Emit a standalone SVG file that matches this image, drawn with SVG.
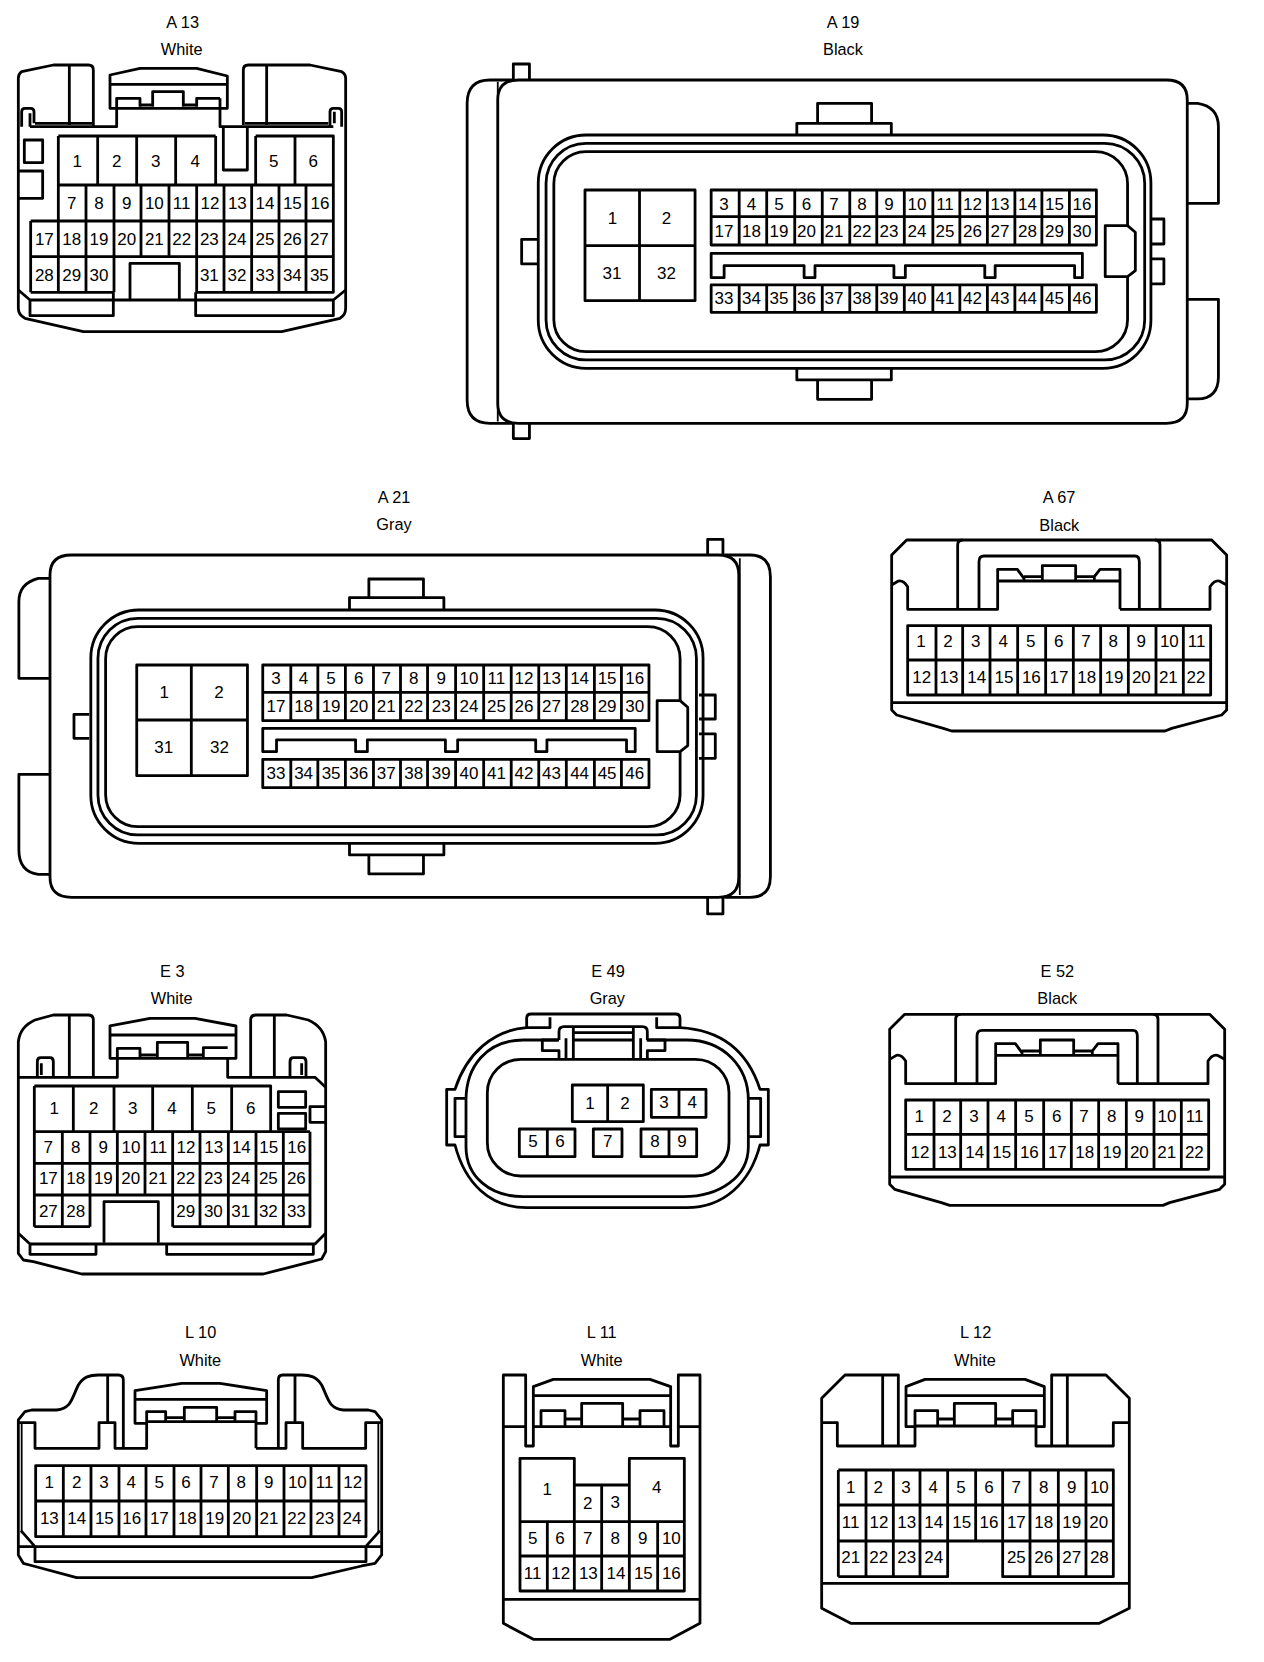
<svg xmlns="http://www.w3.org/2000/svg" width="1264" height="1662" viewBox="0 0 1264 1662">
<style>
text{font-family:"Liberation Sans",Arial,sans-serif;text-anchor:middle;fill:#000}
.x3 text{font-size:51px}
.x3 text.t{font-size:49px}
.x1 text{font-size:17px}
.x1 text.t{font-size:16.3px}
path,rect{fill:none;stroke:#000;stroke-width:2.8;stroke-linejoin:round;vector-effect:non-scaling-stroke}
.w{fill:#fff}
.thin{stroke-width:1.8}
</style>
<rect x="0" y="0" width="1264" height="1662" style="fill:#fff;stroke:none"/>

<g id="A13" class="x3" transform="scale(.33333)">
<path d="M280 380V210Q280 195 265 195H160L65 215Q55 222 55 235V925Q55 945 75 955L250 995H845L1020 955Q1037 945 1037 925V235Q1037 222 1025 215L930 195H745Q730 195 730 210V375M208 195V375M800 195V375"/>
<path d="M90 380H350V295H420V320M660 295H590V320M660 295V380H1000M105 370H280M735 370H985"/>
<path d="M330 325V225L420 205H590L682 228V325ZM330 253H682M420 315H458M458 320V275H550V320M550 315H590"/>
<path d="M670 380V510H742V380"/>
<path d="M65 380V335Q65 325 75 325H92Q102 325 102 335V370M90 340V380M1025 380V335Q1025 325 1015 325H1000Q990 325 990 335V380M1003 335V370"/>
<path d="M73 420H128V488H73ZM55 513H128V595H55"/>
<path d="M55 870L90 900H1000L1037 870M90 900V947H340V877M587 877V947H1000V900M390 900V790H538V900"/>
<path d="M175 408H647M767 408H1000V877H587M92 877H342M175 555H1000M92 663H1000M92 770H1000M175 408V877M293 408V555M410 408V555M527 408V555M647 408V555M767 408V555M885 408V555M92 663V877M258 555V877M342 555V877M423 555V770M507 555V770M590 555V877M672 555V877M755 555V877M837 555V877M918 555V877"/>
<text class="t" x="548" y="83">A 13</text><text class="t" x="545" y="165">White</text>
<text x="232" y="500">1</text><text x="350" y="500">2</text><text x="467" y="500">3</text><text x="586" y="500">4</text><text x="821" y="500">5</text><text x="940" y="500">6</text>
<text x="215" y="628">7</text><text x="297" y="628">8</text><text x="380" y="628">9</text><text x="463" y="628">10</text><text x="545" y="628">11</text><text x="630" y="628">12</text><text x="712" y="628">13</text><text x="795" y="628">14</text><text x="877" y="628">15</text><text x="960" y="628">16</text>
<text x="133" y="735">17</text><text x="215" y="735">18</text><text x="297" y="735">19</text><text x="380" y="735">20</text><text x="463" y="735">21</text><text x="545" y="735">22</text><text x="628" y="735">23</text><text x="711" y="735">24</text><text x="795" y="735">25</text><text x="877" y="735">26</text><text x="958" y="735">27</text>
<text x="133" y="842">28</text><text x="215" y="842">29</text><text x="297" y="842">30</text><text x="628" y="842">31</text><text x="711" y="842">32</text><text x="795" y="842">33</text><text x="877" y="842">34</text><text x="958" y="842">35</text>
</g>

<g id="A19" class="x1">
<g transform="translate(450 0) scale(.5192 .3333)">
<path d="M120 240H77Q33 240 33 310V1200Q33 1270 77 1270H120"/>
<path class="thin" d="M92 245V1265"/>
<path d="M132 240H1380Q1420 240 1420 300V1210Q1420 1270 1380 1270H132Q92 1270 92 1210V300Q92 240 132 240Z"/>
<path d="M122 240V192H153V240M122 1270V1316H153V1270"/>
<path d="M1420 310H1440Q1480 320 1480 380V610H1420M1420 898H1480V1130Q1480 1195 1440 1197H1420"/>
<path d="M708 370V310H812V370M668 405V370H850V405M668 1105V1140H850V1105M708 1140V1198H812V1140"/>
<path d="M170 718H138V792H170M1350 657H1375V732H1350M1350 777H1375V852H1350"/>
<rect x="170" y="405" width="1180" height="700" rx="92" ry="144"/>
<rect x="185" y="430" width="1153" height="650" rx="77" ry="120"/>
<rect x="200" y="455" width="1105" height="600" rx="62" ry="96"/>
<path class="w" d="M1305 677H1262V830H1305L1320 812V697Z"/>
<path d="M260 570H472V902H260ZM365 570V902M260 737H472"/>
<path d="M503 570H1245V735H503ZM503 650H1245M503 855H1245V937H503ZM557 570V735M610 570V735M664 570V735M717 570V735M770 570V735M822 570V735M875 570V735M930 570V735M982 570V735M1035 570V735M1088 570V735M1140 570V735M1193 570V735M557 855V937M610 855V937M664 855V937M717 855V937M770 855V937M822 855V937M875 855V937M930 855V937M982 855V937M1035 855V937M1088 855V937M1140 855V937M1193 855V937"/>
<path d="M503 833V760H1218V833H1203V797H1050V833H1030V797H877V833H855V797H703V833H682V797H528V833Z"/>
</g>
<text class="t" x="843" y="27.7">A 19</text><text class="t" x="843" y="55">Black</text>
<text x="612.5" y="224">1</text><text x="666.5" y="224">2</text><text x="612" y="278.7">31</text><text x="666.5" y="278.7">32</text>
<text x="724" y="209.5">3</text><text x="751.5" y="209.5">4</text><text x="779" y="209.5">5</text><text x="806.5" y="209.5">6</text><text x="834" y="209.5">7</text><text x="862" y="209.5">8</text><text x="889" y="209.5">9</text><text x="917" y="209.5">10</text><text x="945" y="209.5">11</text><text x="972.5" y="209.5">12</text><text x="1000" y="209.5">13</text><text x="1027.5" y="209.5">14</text><text x="1054.5" y="209.5">15</text><text x="1082" y="209.5">16</text>
<text x="724" y="236.7">17</text><text x="751.5" y="236.7">18</text><text x="779" y="236.7">19</text><text x="806.5" y="236.7">20</text><text x="834" y="236.7">21</text><text x="862" y="236.7">22</text><text x="889" y="236.7">23</text><text x="917" y="236.7">24</text><text x="945" y="236.7">25</text><text x="972.5" y="236.7">26</text><text x="1000" y="236.7">27</text><text x="1027.5" y="236.7">28</text><text x="1054.5" y="236.7">29</text><text x="1082" y="236.7">30</text>
<text x="724" y="304.3">33</text><text x="751.5" y="304.3">34</text><text x="779" y="304.3">35</text><text x="806.5" y="304.3">36</text><text x="834" y="304.3">37</text><text x="862" y="304.3">38</text><text x="889" y="304.3">39</text><text x="917" y="304.3">40</text><text x="945" y="304.3">41</text><text x="972.5" y="304.3">42</text><text x="1000" y="304.3">43</text><text x="1027.5" y="304.3">44</text><text x="1054.5" y="304.3">45</text><text x="1082" y="304.3">46</text>
</g>

<g id="A21" class="x1">
<g transform="translate(0 480) scale(.5102 .3333)">
<path d="M1420 225H1470Q1510 225 1510 290V1190Q1510 1252 1470 1252H1420"/>
<path class="thin" d="M1450 235V1245"/>
<path d="M140 225H1408Q1448 225 1448 285V1192Q1448 1252 1408 1252H140Q98 1252 98 1192V285Q98 225 140 225Z"/>
<path d="M1387 225V178H1417V225M1387 1252V1302H1417V1252"/>
<path d="M98 295H75Q37 310 37 365V595H98M98 883H37V1110Q37 1175 75 1183H98"/>
<path d="M723 353V297H830V353M685 390V353H870V390M685 1090V1125H870V1090M723 1125V1182H830V1125"/>
<path d="M175 703H145V775H175M1370 645H1402V717H1370M1370 762H1402V835H1370"/>
<rect x="178" y="390" width="1200" height="700" rx="94" ry="144"/>
<rect x="192" y="415" width="1173" height="650" rx="78" ry="120"/>
<rect x="207" y="440" width="1126" height="600" rx="63" ry="96"/>
<path class="w" d="M1333 662H1288V815H1333L1348 797V682Z"/>
<path d="M268 555H485V887H268ZM375 555V887M268 720H485"/>
<path d="M515 555H1272V722H515ZM515 637H1272M515 838H1272V923H515ZM570 555V722M623 555V722M677 555V722M732 555V722M785 555V722M838 555V722M893 555V722M948 555V722M1002 555V722M1056 555V722M1110 555V722M1165 555V722M1218 555V722M570 838V923M623 838V923M677 838V923M732 838V923M785 838V923M838 838V923M893 838V923M948 838V923M1002 838V923M1056 838V923M1110 838V923M1165 838V923M1218 838V923"/>
<path d="M515 815V745H1245V815H1228V780H1072V815H1050V780H897V815H873V780H720V815H697V780H542V815Z"/>
</g>
<text class="t" x="394" y="502.7">A 21</text><text class="t" x="394" y="530">Gray</text>
<text x="164.3" y="698.3">1</text><text x="218.9" y="698.3">2</text><text x="163.8" y="753.3">31</text><text x="219.4" y="753.3">32</text>
<text x="276" y="684">3</text><text x="303.6" y="684">4</text><text x="331.1" y="684">5</text><text x="358.7" y="684">6</text><text x="386.2" y="684">7</text><text x="413.8" y="684">8</text><text x="441.3" y="684">9</text><text x="468.9" y="684">10</text><text x="496.4" y="684">11</text><text x="524" y="684">12</text><text x="551.5" y="684">13</text><text x="579.6" y="684">14</text><text x="607.1" y="684">15</text><text x="634.7" y="684">16</text>
<text x="276" y="712.3">17</text><text x="303.6" y="712.3">18</text><text x="331.1" y="712.3">19</text><text x="358.7" y="712.3">20</text><text x="386.2" y="712.3">21</text><text x="413.8" y="712.3">22</text><text x="441.3" y="712.3">23</text><text x="468.9" y="712.3">24</text><text x="496.4" y="712.3">25</text><text x="524" y="712.3">26</text><text x="551.5" y="712.3">27</text><text x="579.6" y="712.3">28</text><text x="607.1" y="712.3">29</text><text x="634.7" y="712.3">30</text>
<text x="276" y="779">33</text><text x="303.6" y="779">34</text><text x="331.1" y="779">35</text><text x="358.7" y="779">36</text><text x="386.2" y="779">37</text><text x="413.8" y="779">38</text><text x="441.3" y="779">39</text><text x="468.9" y="779">40</text><text x="496.4" y="779">41</text><text x="524" y="779">42</text><text x="551.5" y="779">43</text><text x="579.6" y="779">44</text><text x="607.1" y="779">45</text><text x="634.7" y="779">46</text>
</g>

<g id="A67" class="x3" transform="translate(860 480) scale(.33333)">
<path d="M95 225L140 180H1055L1100 225V690L1085 705L935 745L915 753H275L250 745L110 705L95 690ZM95 668H1100"/>
<path d="M95 315L115 303Q130 300 143 320V388H413V268H472L492 295V303M413 303H780M547 303V257H647V303M492 290H547M647 290H703M780 388V268H720L703 290V303M780 388H1050V320Q1063 300 1078 303L1100 315"/>
<path d="M293 388V195Q293 180 308 180M900 388V195Q900 180 885 180M357 388V245Q357 228 372 228H825Q838 228 838 245V388"/>
<path d="M143 437H1052V645H143ZM143 540H1052M228 437V645M308 437V645M390 437V645M473 437V645M557 437V645M640 437V645M722 437V645M805 437V645M888 437V645M970 437V645"/>
<text class="t" x="597" y="68">A 67</text><text class="t" x="598" y="152">Black</text>
<text x="183" y="502">1</text><text x="264" y="502">2</text><text x="347" y="502">3</text><text x="430" y="502">4</text><text x="512" y="502">5</text><text x="596" y="502">6</text><text x="678" y="502">7</text><text x="760" y="502">8</text><text x="844" y="502">9</text><text x="928" y="502">10</text><text x="1010" y="502">11</text>
<text x="185" y="608">12</text><text x="267" y="608">13</text><text x="350" y="608">14</text><text x="432" y="608">15</text><text x="514" y="608">16</text><text x="597" y="608">17</text><text x="680" y="608">18</text><text x="762" y="608">19</text><text x="844" y="608">20</text><text x="925" y="608">21</text><text x="1008" y="608">22</text>
</g>

<g id="E3" class="x3" transform="translate(0 960) scale(.33333)">
<path d="M280 352V180Q280 165 265 165H160L105 180Q60 200 55 245V880L70 900L100 905L245 942H790L935 905L965 897L977 875V245Q970 200 925 180L860 165H768Q752 165 752 180V352M208 165V352M823 165V352"/>
<path d="M55 352H352V265H420V295M683 263H610V295M683 295V352H945L977 382"/>
<path d="M330 295V198L450 175H585L708 198V295ZM330 225H708M420 285H472M472 295V247H563V295M563 285H610"/>
<path d="M112 352V305Q112 293 122 293H150Q160 293 160 305V352M124 310V345M870 352V305Q870 293 880 293H908Q918 293 918 305V352M905 310V345"/>
<path d="M103 378H812V515M103 515H930M103 610H930M103 705H930M103 800H270M518 800H930V515M103 378V800M220 378V515M342 378V515M458 378V515M577 378V515M695 378V515M187 515V800M270 515V800M352 515V705M435 515V705M518 515V800M600 515V800M685 515V800M768 515V800M850 515V800"/>
<rect x="835" y="395" width="82" height="47"/><rect x="835" y="460" width="82" height="47"/>
<path d="M977 440H930V487H977M312 848V725H475V848"/>
<path d="M55 820L90 852H945L977 820M90 852V883H288V852M500 852V883H940V852"/>
<text class="t" x="517" y="52">E 3</text><text class="t" x="515" y="133">White</text>
<text x="163" y="462">1</text><text x="281" y="462">2</text><text x="398" y="462">3</text><text x="516" y="462">4</text><text x="634" y="462">5</text><text x="752" y="462">6</text>
<text x="145" y="580">7</text><text x="227" y="580">8</text><text x="310" y="580">9</text><text x="393" y="580">10</text><text x="475" y="580">11</text><text x="558" y="580">12</text><text x="641" y="580">13</text><text x="724" y="580">14</text><text x="806" y="580">15</text><text x="890" y="580">16</text>
<text x="145" y="672">17</text><text x="227" y="672">18</text><text x="310" y="672">19</text><text x="392" y="672">20</text><text x="474" y="672">21</text><text x="557" y="672">22</text><text x="640" y="672">23</text><text x="722" y="672">24</text><text x="805" y="672">25</text><text x="889" y="672">26</text>
<text x="145" y="770">27</text><text x="227" y="770">28</text><text x="557" y="770">29</text><text x="640" y="770">30</text><text x="722" y="770">31</text><text x="805" y="770">32</text><text x="889" y="770">33</text>
</g>

<g id="E49" class="x3" transform="translate(430 960) scale(.33333)">
<path d="M360 172V203H290V175Q290 162 303 162H737Q750 162 750 175V203H680V172"/>
<path d="M290 203C190 210 110 280 75 388H50V555H75C105 670 180 743 290 743H770C880 743 960 670 990 555H1015V388H990C955 280 880 210 750 203"/>
<path d="M385 240H280C170 240 108 320 108 420V560C108 650 180 710 280 710H760C870 710 955 650 955 560V420C955 320 880 240 770 240H650"/>
<rect x="172" y="298" width="725" height="350" rx="100" ry="100"/>
<path d="M108 415H75V530H108M955 415H992V530H955"/>
<path d="M387 240V215Q387 200 402 200H637Q652 200 652 215V240M430 218H610M430 240H610M430 200V298M610 200V298M408 235V298M632 235V298M387 240H337V272H387V298M652 298V272H705V240H652"/>
<path d="M427 375H640V485H427ZM533 375V485M664 388H828V472H664ZM747 388V472M268 507H435V590H268ZM352 507V590M490 507H576V590H490ZM633 507H800V590H633ZM717 507V590"/>
<text class="t" x="534" y="52">E 49</text><text class="t" x="532" y="133">Gray</text>
<text x="480" y="447">1</text><text x="585" y="447">2</text><text x="702" y="445">3</text><text x="787" y="445">4</text><text x="309" y="562">5</text><text x="390" y="562">6</text><text x="533" y="562">7</text><text x="675" y="562">8</text><text x="756" y="562">9</text>
</g>

<g id="E52" class="x3" transform="translate(860 960) scale(.33333)">
<g transform="translate(-6 -17)">
<path d="M95 225L140 180H1055L1100 225V690L1085 705L935 745L915 753H275L250 745L110 705L95 690ZM95 668H1100"/>
<path d="M95 315L115 303Q130 300 143 320V388H413V268H472L492 295V303M413 303H780M547 303V257H647V303M492 290H547M647 290H703M780 388V268H720L703 290V303M780 388H1050V320Q1063 300 1078 303L1100 315"/>
<path d="M293 388V195Q293 180 308 180M900 388V195Q900 180 885 180M357 388V245Q357 228 372 228H825Q838 228 838 245V388"/>
<path d="M143 437H1052V645H143ZM143 540H1052M228 437V645M308 437V645M390 437V645M473 437V645M557 437V645M640 437V645M722 437V645M805 437V645M888 437V645M970 437V645"/>
</g>
<text class="t" x="592" y="52">E 52</text><text class="t" x="592" y="133">Black</text>
<text x="178" y="487">1</text><text x="261" y="487">2</text><text x="342" y="487">3</text><text x="424" y="487">4</text><text x="507" y="487">5</text><text x="590" y="487">6</text><text x="672" y="487">7</text><text x="755" y="487">8</text><text x="838" y="487">9</text><text x="921" y="487">10</text><text x="1004" y="487">11</text>
<text x="180" y="595">12</text><text x="262" y="595">13</text><text x="344" y="595">14</text><text x="425" y="595">15</text><text x="508" y="595">16</text><text x="592" y="595">17</text><text x="674" y="595">18</text><text x="756" y="595">19</text><text x="838" y="595">20</text><text x="920" y="595">21</text><text x="1003" y="595">22</text>
</g>

<g id="L10" class="x3" transform="translate(0 1320) scale(.33333)">
<path d="M370 385V180Q370 165 355 165H295C270 165 250 170 235 195C215 235 215 265 170 270H95L75 275L55 300V705L70 730L100 738L230 773H935L1085 738L1125 730L1145 705V300L1125 275L1105 270H1030C985 265 985 235 965 195C950 170 930 165 905 165H848Q835 165 835 180V385M323 165V308M885 165V308"/>
<path d="M55 308H105V385H297V308H345V385H440V275H497V305M768 385V275H705V305M768 385H858V308H908V385H1097V308H1145"/>
<path class="thin" d="M65 310V640M1135 310V640"/>
<path d="M440 310H405V212L545 190H660L800 212V310H768M405 238H800M440 305H768M553 305V262H650V305M497 293H553M650 293H705"/>
<path d="M107 437H1098V650H107ZM107 543H1098M190 437V650M273 437V650M357 437V650M438 437V650M522 437V650M603 437V650M685 437V650M770 437V650M852 437V650M933 437V650M1017 437V650"/>
<path d="M55 680H1145M63 632L105 680M1140 632L1097 680M105 680V725H1098V680"/>
<text class="t" x="602" y="55">L 10</text><text class="t" x="601" y="137">White</text>
<text x="148" y="505">1</text><text x="230" y="505">2</text><text x="312" y="505">3</text><text x="394" y="505">4</text><text x="478" y="505">5</text><text x="558" y="505">6</text><text x="642" y="505">7</text><text x="724" y="505">8</text><text x="806" y="505">9</text><text x="892" y="505">10</text><text x="974" y="505">11</text><text x="1058" y="505">12</text>
<text x="148" y="613">13</text><text x="230" y="613">14</text><text x="313" y="613">15</text><text x="395" y="613">16</text><text x="478" y="613">17</text><text x="562" y="613">18</text><text x="644" y="613">19</text><text x="725" y="613">20</text><text x="807" y="613">21</text><text x="890" y="613">22</text><text x="974" y="613">23</text><text x="1056" y="613">24</text>
</g>

<g id="L11" class="x3" transform="translate(490 1320) scale(.33333)">
<path d="M130 200V378H107V165H40V910L130 958H540L630 910V165H565V378H542V200L480 178H190L130 200ZM132 227H542M40 320H107M130 320H542M565 320H630"/>
<path d="M153 320V272H225V320M225 297H275M275 320V250H398V320M398 297H450M450 320V272H522V320"/>
<path d="M90 415H253V495H418V415H583V813H90ZM253 495V813M90 605H583M90 708H583M172 605V813M335 495V813M418 495V813M503 605V813"/>
<path d="M40 838H630"/>
<text class="t" x="335" y="55">L 11</text><text class="t" x="335" y="137">White</text>
<text x="172" y="525">1</text><text x="500" y="520">4</text><text x="293" y="567">2</text><text x="376" y="565">3</text>
<text x="128" y="672">5</text><text x="210" y="672">6</text><text x="293" y="672">7</text><text x="376" y="672">8</text><text x="458" y="672">9</text><text x="544" y="672">10</text>
<text x="128" y="778">11</text><text x="212" y="778">12</text><text x="295" y="778">13</text><text x="378" y="778">14</text><text x="460" y="778">15</text><text x="544" y="778">16</text>
</g>

<g id="L12" class="x3" transform="translate(810 1320) scale(.33333)">
<path d="M265 378V165H105L35 235V865L122 910H868L958 865V235L888 165H725V378M218 165V378M772 165V378M35 790H958"/>
<path d="M35 308H82V378H315V272H383V318M958 308H910V378H678V272H608V318"/>
<path d="M315 320H288V200L345 178H645L703 200V320H678M288 227H703M315 318H678M433 318V250H557V318M383 297H433M557 297H608"/>
<path d="M85 450H910V770H578V663M85 770H413V663M85 555H910M85 663H910M85 450V770M168 450V770M250 450V770M330 450V770M413 450V663M497 450V663M578 450V663M660 450V770M745 450V770M828 450V770"/>
<text class="t" x="497" y="55">L 12</text><text class="t" x="495" y="137">White</text>
<text x="122" y="518">1</text><text x="205" y="518">2</text><text x="288" y="518">3</text><text x="370" y="518">4</text><text x="453" y="518">5</text><text x="537" y="518">6</text><text x="619" y="518">7</text><text x="701" y="518">8</text><text x="785" y="518">9</text><text x="868" y="518">10</text>
<text x="122" y="625">11</text><text x="207" y="625">12</text><text x="290" y="625">13</text><text x="371" y="625">14</text><text x="455" y="625">15</text><text x="537" y="625">16</text><text x="619" y="625">17</text><text x="701" y="625">18</text><text x="785" y="625">19</text><text x="866" y="625">20</text>
<text x="122" y="730">21</text><text x="206" y="730">22</text><text x="290" y="730">23</text><text x="371" y="730">24</text><text x="619" y="730">25</text><text x="701" y="730">26</text><text x="785" y="730">27</text><text x="868" y="730">28</text>
</g>
</svg>
